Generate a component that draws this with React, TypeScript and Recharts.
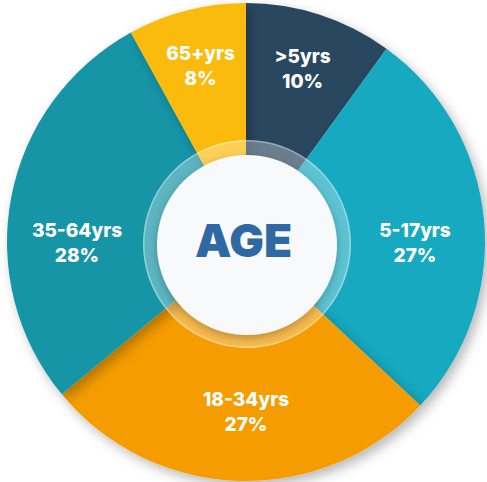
import { PieChart, Pie, Cell, Label } from 'recharts'

// age groups, clockwise from 12 o'clock
const categories = ['>5yrs', '5-17yrs', '18-34yrs', '35-64yrs', '65+yrs']
const shares = [10, 27, 27, 28, 8]
const COLORS = ['#2b4760', '#19a9bf', '#f59c05', '#1595a7', '#fbbb0c']

const RADIAN = Math.PI / 180

const data = categories.map((name, i) => ({ name, value: shares[i] }))

const renderLabel = ({ cx, cy, midAngle, startAngle, endAngle, percent, name }: any) => {
  // big slices: put the label on the compass point they cover
  let angle = midAngle
  const snap = Math.round(midAngle / 90) * 90
  const lo = Math.min(startAngle, endAngle) + 10
  const hi = Math.max(startAngle, endAngle) - 10
  if (snap > lo && snap < hi) angle = snap
  const radius = percent < 0.15 ? 183 : 169
  const x = cx + radius * Math.cos(-angle * RADIAN)
  const y = cy + radius * Math.sin(-angle * RADIAN)
  return (
    <text x={x} y={y} fill="#fff" textAnchor="middle" fontSize={19} fontWeight={800} fontFamily="Inter, 'Open Sans', sans-serif">
      <tspan x={x} dy={-5}>{name}</tspan>
      <tspan x={x} dy={25}>{`${Math.round(percent * 100)}%`}</tspan>
    </text>
  )
}

export default function App() {
  return (
    <div style={{ position: 'absolute', left: 0, top: 0, width: 487, height: 482, background: '#fff', overflow: 'hidden' }}>
      <PieChart width={487} height={482} margin={{ top: 0, right: 0, bottom: 0, left: 0 }}>
        <defs>
          <filter id="pie-shadow" x="-20%" y="-20%" width="140%" height="140%">
            <feDropShadow dx="4" dy="5" stdDeviation="6" floodColor="#000" floodOpacity="0.28" />
          </filter>
          <filter id="disc-shadow" x="-30%" y="-30%" width="160%" height="160%">
            <feDropShadow dx="0" dy="3" stdDeviation="4" floodColor="#000" floodOpacity="0.25" />
          </filter>
        </defs>
        <Pie
          data={data}
          dataKey="value"
          cx={246}
          cy={242}
          innerRadius={0}
          outerRadius={239}
          startAngle={90}
          endAngle={-270}
          stroke="none"
          labelLine={false}
          label={renderLabel}
          isAnimationActive={false}
          style={{ filter: 'url(#pie-shadow)' }}
        >
          {data.map((entry, index) => (
            <Cell key={entry.name} fill={COLORS[index]} />
          ))}
        </Pie>
        {/* frosted ring round the centre */}
        <Pie
          data={[{ name: 'ring', value: 1 }]}
          dataKey="value"
          cx={247}
          cy={244}
          innerRadius={0}
          outerRadius={104}
          stroke="none"
          fill="rgba(255,255,255,0.3)"
          isAnimationActive={false}
        />
        <Pie
          data={[{ name: 'rim', value: 1 }]}
          dataKey="value"
          cx={247}
          cy={244}
          innerRadius={102.5}
          outerRadius={104}
          stroke="none"
          fill="rgba(255,255,255,0.35)"
          isAnimationActive={false}
        />
        <Pie
          data={[{ name: 'disc', value: 1 }]}
          dataKey="value"
          cx={247}
          cy={245}
          innerRadius={0}
          outerRadius={90}
          stroke="none"
          fill="#f8f9fa"
          isAnimationActive={false}
          style={{ filter: 'url(#disc-shadow)' }}
        >
          <Label
            value="AGE"
            position="center"
            fill="#2f69a3"
            fontSize={46}
            fontWeight={900}
            fontFamily="Inter, 'Open Sans', sans-serif"
          />
        </Pie>
      </PieChart>
    </div>
  )
}
